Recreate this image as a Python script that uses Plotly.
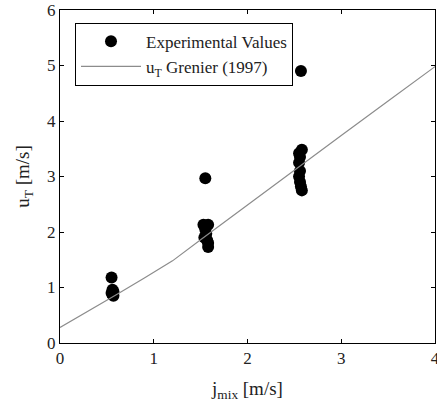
import plotly.graph_objects as go

# Experimental values
exp_x = [0.55, 0.56, 0.57, 0.55, 0.56, 0.57,
         1.55, 1.53, 1.58, 1.55, 1.56, 1.54, 1.57, 1.58, 1.58,
         2.57, 2.55, 2.58, 2.56, 2.55, 2.56, 2.55, 2.56, 2.57, 2.58]
exp_y = [1.18, 0.96, 0.93, 0.90, 0.87, 0.85,
         2.97, 2.13, 2.13, 2.05, 1.97, 1.90, 1.85, 1.80, 1.73,
         4.90, 3.42, 3.48, 3.35, 3.25, 3.10, 3.00, 2.90, 2.82, 2.75]

# Grenier (1997) model
model_x = [0.0, 0.3, 0.6, 0.9, 1.2, 1.5, 2.0, 2.5, 3.0, 3.5, 4.0]
model_y = [0.28, 0.57, 0.87, 1.17, 1.48, 1.86, 2.49, 3.12, 3.74, 4.36, 4.98]

FONT = "'Liberation Serif', 'DejaVu Serif', 'Times New Roman', serif"

fig = go.Figure()
fig.add_trace(go.Scatter(
    x=exp_x, y=exp_y, mode="markers", name="Experimental Values",
    marker=dict(color="black", size=12, line=dict(width=0)),
))
fig.add_trace(go.Scatter(
    x=model_x, y=model_y, mode="lines", name="u<sub>T</sub> Grenier (1997)",
    line=dict(color="#8c8c8c", width=1.2),
))

axis_common = dict(
    showline=True, linecolor="black", linewidth=1, mirror="ticks",
    ticks="inside", ticklen=4, tickcolor="black", tickwidth=1,
    showgrid=False, zeroline=False, automargin=False,
    ticklabeloverflow="allow",
    tickfont=dict(family=FONT, size=17, color="#222"),
)

fig.update_layout(
    width=437, height=405,
    margin=dict(l=60, r=2, t=10, b=62),
    paper_bgcolor="white", plot_bgcolor="white",
    font=dict(family=FONT, color="#222"),
    showlegend=True,
    legend=dict(
        x=0.04, y=0.962, xanchor="left", yanchor="top",
        bordercolor="black", borderwidth=1, bgcolor="white",
        font=dict(family=FONT, size=17, color="#222"),
        tracegroupgap=0, itemwidth=60,
    ),
    xaxis=dict(range=[0, 4.0001], tickvals=[0, 1, 2, 3, 4],
               title=dict(text="j<sub>mix</sub> [m/s]", font=dict(family=FONT, size=19, color="#222"), standoff=14),
               **axis_common),
    yaxis=dict(range=[0, 6], tickvals=[0, 1, 2, 3, 4, 5, 6],
               title=dict(text="u<sub>T</sub> [m/s]", font=dict(family=FONT, size=19, color="#222"), standoff=12),
               **axis_common),
)

fig.write_html("out.html")
